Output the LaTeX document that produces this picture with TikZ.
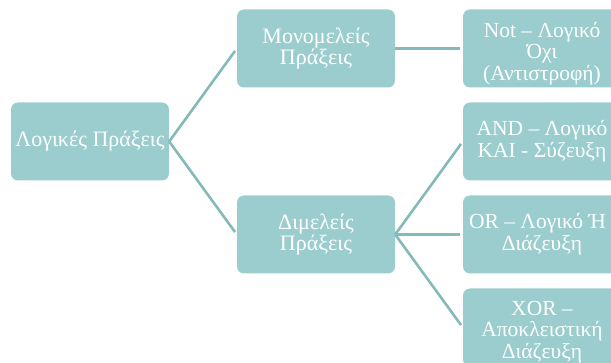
\documentclass[tikz,border=0pt]{standalone}
\usepackage{fontspec}
\setmainfont{Liberation Serif}
\definecolor{boxfill}{HTML}{9BCDCE}
\definecolor{linkcol}{HTML}{84BAB9}
% one centred line; the optional length pushes it to the left by half its value
\newcommand\rowtext[2][0pt]{\makebox[0pt]{#2\hspace*{#1}}}
\begin{document}
\begin{tikzpicture}[x=1pt,y=-1pt,
  box/.style={fill=boxfill, rounded corners=7pt, minimum width=158pt,
    minimum height=78pt, inner sep=0pt, align=center, text=white,
    font=\fontsize{22}{21.7}\selectfont},
  leaf/.style={box, font=\fontsize{21.5}{21.7}\selectfont},
  leaftext/.style={inner sep=0pt, align=center, text=white,
    font=\fontsize{21.5}{21.7}\selectfont},
  link/.style={draw=linkcol, line width=2.6pt, shorten >=3pt}]
\useasboundingbox (0,0) rectangle (611,363);
\clip (0,0) rectangle (611,363);

% root and the two groups
\node[box] (root) at (90,141.5) {Λογικές Πράξεις};
\node[box] (mono) at (316,48.5) {Μονομελείς\\Πράξεις};
\node[box] (dual) at (316,234.5) {Διμελείς\\Πράξεις};

% single operations
\node[leaf] (not) at (542,48.5) {};
\node[leaftext] (nottext) at ([yshift=-5pt]not.center)
  {\rowtext{Not – Λογικό}\\\rowtext{Όχι}\\\rowtext{(Αντιστροφή)}};

% two-operand operations
\node[leaf] (and) at (542,141.5) {\rowtext{AND – Λογικό}\\\rowtext{ΚΑΙ - Σύζευξη}};
\node[leaf] (or) at (542,234.5) {\rowtext[9pt]{OR – Λογικό Ή}\\\rowtext{Διάζευξη}};
\node[leaf] (xor) at (542,327.5) {};
\node[leaftext] (xortext) at ([yshift=-4.5pt]xor.center)
  {\rowtext{XOR –}\\\rowtext{Αποκλειστική}\\\rowtext{Διάζευξη}};

% connectors
\draw[link] (root.east) -- (mono.west);
\draw[link] (root.east) -- (dual.west);
\draw[link] (mono.east) -- (not.west);
\draw[link] (dual.east) -- (and.west);
\draw[link] (dual.east) -- (or.west);
\draw[link] (dual.east) -- (xor.west);
\end{tikzpicture}
\end{document}
